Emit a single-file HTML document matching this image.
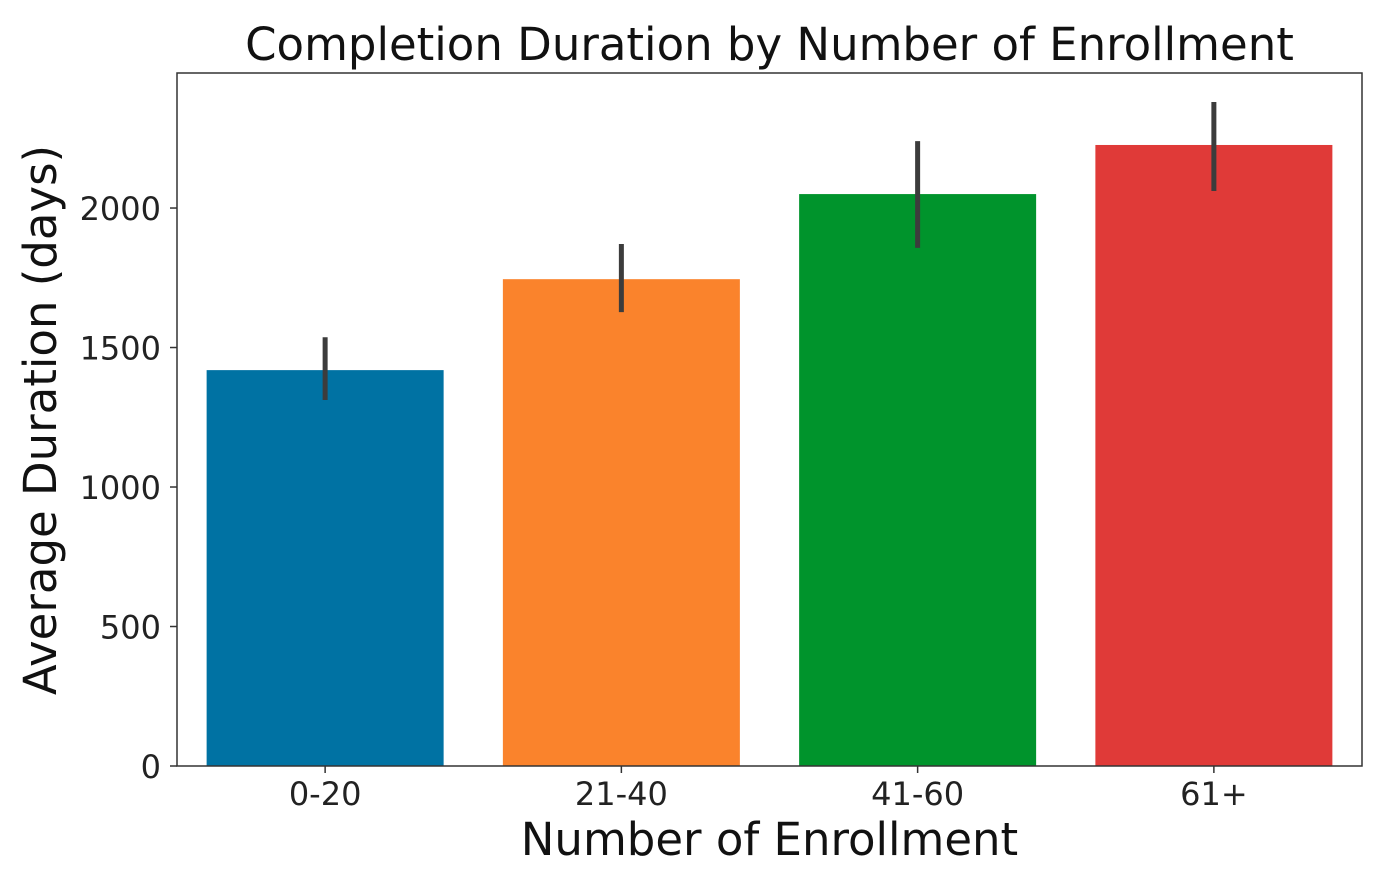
<!DOCTYPE html>
<html><head><meta charset="utf-8"><style>
html,body{margin:0;padding:0;background:#fff;}
svg{display:block;font-family:"DejaVu Sans","Liberation Sans",sans-serif;}
</style></head><body>
<svg id="chart" width="1389" height="882" viewBox="0 0 1389 882"></svg>
<script>
const categories = ["0-20", "21-40", "41-60", "61+"];
const durations = [1419, 1745, 2050, 2226];
const errLow = [1312, 1627, 1857, 2061];
const errHigh = [1537, 1871, 2240, 2380];
const yTicks = [0, 500, 1000, 1500, 2000];
const colors = ["#0072a3", "#fa832c", "#00942c", "#e03a38"];

const NS = "http://www.w3.org/2000/svg";
const svg = document.getElementById("chart");
const L = 177, R = 1362, T = 73, B = 766, yMax = 2484;
const step = (R - L) / categories.length;
const xPos = i => L + step * (i + 0.5);
const yPos = v => B - (v / yMax) * (B - T);
function mk(tag, attrs, parent) {
  const e = document.createElementNS(NS, tag);
  for (const k in attrs) e.setAttribute(k, attrs[k]);
  (parent || svg).appendChild(e);
  return e;
}
categories.forEach((c, i) => {
  const w = step * 0.8;
  const r = mk("rect", {x: xPos(i) - w / 2, y: yPos(durations[i]), width: w, height: B - yPos(durations[i]), fill: colors[i]});
  
  
  const e = mk("line", {x1: xPos(i), x2: xPos(i), y1: yPos(errLow[i]), y2: yPos(errHigh[i]), stroke: "#3c3c3c", "stroke-width": 5});
  
  
  mk("line", {x1: xPos(i), x2: xPos(i), y1: B, y2: B + 7, stroke: "#333", "stroke-width": 1.5});
  const t = mk("text", {x: xPos(i), y: B + 39, "text-anchor": "middle", "font-size": 32, fill: "#222"});
  t.textContent = c;
  
  
});
yTicks.forEach(v => {
  mk("line", {x1: L - 7, x2: L, y1: yPos(v), y2: yPos(v), stroke: "#333", "stroke-width": 1.5});
  const t = mk("text", {x: L - 16, y: yPos(v) + 12, "text-anchor": "end", "font-size": 32, fill: "#222"});
  t.textContent = v;
  
  
});
const frame = mk("rect", {x: L, y: T, width: R - L, height: B - T, fill: "none", stroke: "#333", "stroke-width": 1.5});


const title = mk("text", {x: (L + R) / 2, y: 60, "text-anchor": "middle", "font-size": 45, fill: "#111"});
title.textContent = "Completion Duration by Number of Enrollment";


const xl = mk("text", {x: (L + R) / 2, y: 855, "text-anchor": "middle", "font-size": 45, fill: "#111"});
xl.textContent = "Number of Enrollment";


const yl = mk("text", {x: 0, y: 0, "text-anchor": "middle", "font-size": 45, fill: "#111", transform: "translate(56," + 420 + ") rotate(-90)"});
yl.textContent = "Average Duration (days)";


</script>
</body></html>
